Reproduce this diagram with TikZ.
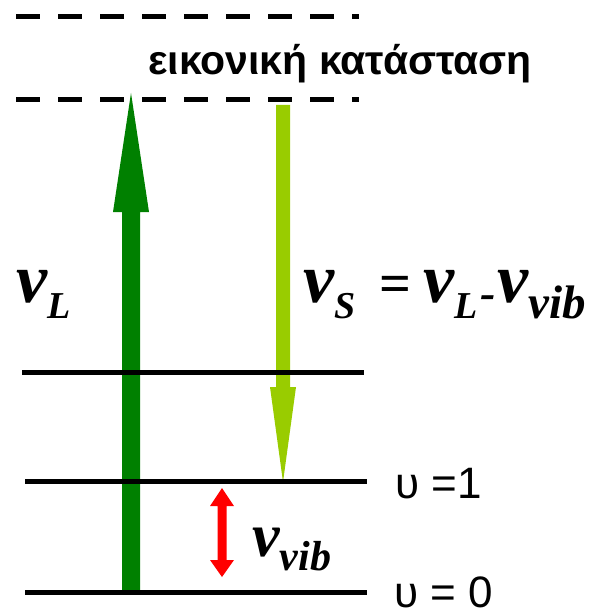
\documentclass[tikz,border=0pt]{standalone}
\usepackage{fontspec}
\setmainfont{Liberation Serif}
\newfontfamily\greeksans{Liberation Sans}
\definecolor{upgreen}{RGB}{0,128,0}
\definecolor{downgreen}{RGB}{153,204,0}
\definecolor{vibred}{RGB}{255,0,0}
\newcommand\bigv[1]{{\fontsize{#1}{#1}\selectfont\bfseries\itshape v}}
\newcommand\subv[3]{\raisebox{-#2pt}{\fontsize{#1}{#1}\selectfont\bfseries\itshape #3}}
\tikzset{
  level/.style={line width=5pt},
  virt/.style={line width=5pt, dash pattern=on 24pt off 18pt},
  lbl/.style={inner sep=0pt, anchor=base west},
}
\begin{document}
\begin{tikzpicture}[x=1pt,y=-1pt]
\useasboundingbox (0,0) rectangle (593,615);
% virtual state
\draw[virt] (16,17) coordinate (vt1) -- (359,17) coordinate (vt2);
\draw[virt] (16,100) coordinate (vb1) -- (359,100) coordinate (vb2);
\node[lbl, font=\greeksans\bfseries\fontsize{41}{41}\selectfont] (virtlabel) at (148,75) {εικονική κατάσταση};
% arrows
\fill[upgreen] (122,590) -- (122,212) -- (113,212) -- (131,93) -- (149,212) -- (140,212) -- (140,590) -- cycle;
\fill[downgreen] (276,105) -- (276,387) -- (270,387) -- (283,482) -- (296,387) -- (290,387) -- (290,105) -- cycle;
\fill[vibred] (222,488) -- (234,506) -- (226.5,506) -- (226.5,560) -- (234,560) -- (222,577) -- (210,560) -- (217.5,560) -- (217.5,506) -- (210,506) -- cycle;
% levels
\draw[level] (22,372) coordinate (l2a) -- (364,372) coordinate (l2b);
\draw[level] (25,481) coordinate (l1a) -- (367,481) coordinate (l1b);
\draw[level] (25,592) coordinate (l0a) -- (367,592) coordinate (l0b);
% labels
\node[lbl, font=\greeksans\fontsize{44}{44}\selectfont] (u1) at (395,498) {υ =1};
\node[lbl, font=\greeksans\fontsize{44}{44}\selectfont] (u0) at (394,607) {υ = 0};
\node[lbl] (nuL) at (16,302) {\bigv{70}\subv{38}{16}{L}};
\node[lbl] (nuS) at (303,302) {\bigv{70}\subv{38}{16}{S}\hspace{24pt}{\fontsize{56}{56}\selectfont\bfseries =}\hspace{12pt}\bigv{70}\subv{38}{16}{L}\hspace{3pt}\subv{46}{6}{-}\hspace{2pt}\bigv{70}\subv{47}{16}{vib}};
\node[lbl] (nuvib) at (252,556) {\bigv{62}\subv{42}{14}{vib}};
\end{tikzpicture}
\end{document}
